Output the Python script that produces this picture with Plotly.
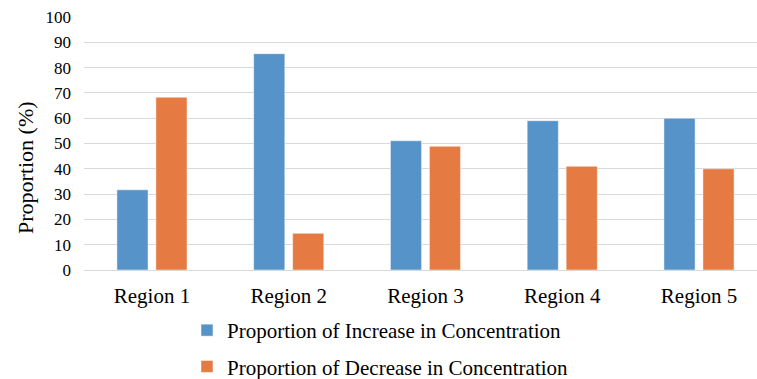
import plotly.graph_objects as go

# Chart data
regions = ["Region 1", "Region 2", "Region 3", "Region 4", "Region 5"]
increase_pct = [31.7, 85.5, 51.1, 59.0, 60.0]
decrease_pct = [68.3, 14.5, 48.9, 41.0, 40.0]
y_ticks = [0, 10, 20, 30, 40, 50, 60, 70, 80, 90, 100]

BLUE = "#5593c8"
ORANGE = "#e57a42"
FONT = "Liberation Serif, Times New Roman, serif"

fig = go.Figure()
fig.add_trace(go.Bar(
    x=regions, y=increase_pct, name="Proportion of Increase in Concentration",
    marker=dict(color=BLUE, line=dict(color="rgba(255,255,255,0.5)", width=1)),
    legendgroup="inc",
))
fig.add_trace(go.Bar(
    x=regions, y=decrease_pct, name="Proportion of Decrease in Concentration",
    marker=dict(color=ORANGE, line=dict(color="rgba(255,255,255,0.5)", width=1)),
    legendgroup="dec",
))

fig.update_layout(
    width=757, height=379,
    margin=dict(l=84, r=0, t=17, b=109, autoexpand=False),
    paper_bgcolor="white", plot_bgcolor="white",
    barmode="group", bargap=0.43, bargroupgap=0.2,
    font=dict(family=FONT, color="#000000"),
    showlegend=True,
    legend=dict(
        xref="container", yref="container",
        x=187 / 757, y=1 - 310 / 379, xanchor="left", yanchor="top",
        font=dict(size=21, family=FONT, color="#000000"),
        traceorder="grouped", tracegroupgap=6,
        bgcolor="rgba(0,0,0,0)", itemwidth=30,
    ),
    annotations=[dict(
        text="Proportion (%)", xref="paper", yref="paper",
        x=-84 / 673 + 25 / 673, y=(270 - 168) / 253,
        xanchor="center", yanchor="middle", textangle=-90, showarrow=False,
        font=dict(size=22, family=FONT, color="#000000"),
    )],
)

fig.update_xaxes(
    type="category", range=[-0.497, 4.424],
    showgrid=False, showline=False, zeroline=False,
    tickfont=dict(size=21, family=FONT, color="#000000"),
    ticks="", ticklabelstandoff=11, tickangle=0,
)
fig.update_yaxes(
    range=[0, 100], tickvals=y_ticks,
    showgrid=True, gridcolor="#d9d9d9", gridwidth=1,
    zeroline=True, zerolinecolor="#d9d9d9", zerolinewidth=1,
    showline=False,
    tickfont=dict(size=17, family=FONT, color="#000000"),
    ticks="", ticklabelstandoff=12,
)

fig.write_html("out.html")
